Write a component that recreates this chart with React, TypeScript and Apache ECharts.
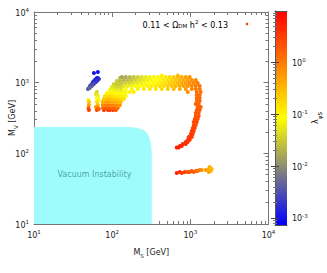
import React, { useEffect, useRef } from 'react';
import * as echarts from 'echarts';

const FONT = 'DejaVu Sans';

const X_MAJOR = [10, 100, 1000, 10000];
const X_MINOR = [20, 30, 40, 50, 60, 70, 80, 90, 200, 300, 400, 500, 600, 700, 800, 900, 2000, 3000, 4000, 5000, 6000, 7000, 8000, 9000];
const Y_MAJOR = [10, 100, 1000, 10000];
const Y_MINOR = [20, 30, 40, 50, 60, 70, 80, 90, 200, 300, 400, 500, 600, 700, 800, 900, 2000, 3000, 4000, 5000, 6000, 7000, 8000, 9000];
const CB_MAJOR = [0.001, 0.01, 0.1, 1];
const CB_MINOR = [0.0008, 0.0009, 0.002, 0.003, 0.004, 0.005, 0.006, 0.007, 0.008, 0.009, 0.02, 0.03, 0.04, 0.05, 0.06, 0.07, 0.08, 0.09, 0.2, 0.3, 0.4, 0.5, 0.6, 0.7, 0.8, 0.9, 2, 3, 4, 5, 6, 7, 8, 9];
const LOG_LAMBDA_MIN = -3.135;
const LOG_LAMBDA_MAX = 0.99;
const PALETTE = ['#0000ff', '#808080', '#ffff00', '#ff8000', '#ff0000'];

// [M_S, M_V, lambda_phiS]
const blueBranch = [
  [58.4, 1371, 0.001], [65.6, 1416, 0.0011],
  [49.0, 812, 0.004], [50.4, 840, 0.004], [51.9, 897, 0.003], [53.5, 927, 0.003], [55.0, 957, 0.0025],
  [56.7, 1022, 0.002], [58.4, 1056, 0.0018], [60.1, 1091, 0.0016], [61.9, 1127, 0.0015], [63.7, 1165, 0.0013],
  [65.6, 1165, 0.0012], [67.6, 1127, 0.0015], [65.6, 1091, 0.0018], [61.9, 1022, 0.002], [58.4, 957, 0.003],
  [55.0, 897, 0.0035], [51.9, 840, 0.005], [63.7, 1056, 0.002],
];
const smallColumns = [
  [49.7, 569, 0.1], [50.4, 533, 0.25], [50.4, 483, 0.5], [49.7, 438, 1.5], [50.4, 410, 3],
  [63.7, 738, 0.04], [61.9, 692, 0.05], [65.6, 648, 0.06], [63.7, 607, 0.08], [67.6, 569, 0.1],
  [63.7, 533, 0.15], [65.6, 483, 0.3], [61.9, 453, 0.6], [65.6, 438, 1], [63.7, 410, 2.5], [67.6, 424, 1.5],
];
const mainCloud = [
  [78.3, 410, 4], [88.1, 410, 3], [93.5, 410, 3.5], [102.1, 410, 3], [111.4, 410, 2.5],
  [76, 438, 1.5], [83.1, 438, 2], [90.8, 438, 2], [99.1, 438, 1.5], [108.2, 438, 1.5], [118.2, 438, 1.2],
  [76, 483, 0.8], [83.1, 483, 1], [90.8, 483, 1], [99.1, 483, 0.9], [108.2, 483, 0.8], [118.2, 483, 0.7], [125.4, 483, 0.6],
  [76, 533, 0.4], [83.1, 533, 0.5], [90.8, 533, 0.5], [99.1, 533, 0.45], [108.2, 533, 0.4], [118.2, 533, 0.35], [129.1, 533, 0.3],
  [78.3, 588, 0.25], [85.5, 588, 0.3], [93.5, 588, 0.3], [102.1, 588, 0.25], [111.4, 588, 0.22], [121.8, 588, 0.2], [133, 588, 0.18], [141, 588, 0.15],
  [80.7, 648, 0.15], [88.1, 648, 0.18], [96.2, 648, 0.18], [105.1, 648, 0.15], [114.8, 648, 0.13], [125.4, 648, 0.12], [137, 648, 0.11], [149.6, 648, 0.1],
  [85.5, 714, 0.1], [93.5, 714, 0.1], [102.1, 714, 0.1], [111.4, 714, 0.09], [121.8, 714, 0.08], [133, 714, 0.08], [145.2, 714, 0.08],
  [93.5, 787, 0.07], [102.1, 787, 0.07], [111.4, 787, 0.06], [121.8, 787, 0.06], [133, 787, 0.06],
  [99.1, 868, 0.05], [108.2, 868, 0.045], [118.2, 868, 0.04], [129.1, 868, 0.04],
  [105.1, 957, 0.035], [114.8, 957, 0.03], [125.4, 957, 0.03],
  [114.8, 1056, 0.03], [125.4, 1056, 0.025],
  [125.4, 1165, 0.025],
];
const upperBand = [
  [431, 1260, 0.1], [691, 1260, 0.28],
  [133, 1203, 0.015], [149.6, 1203, 0.018], [168.3, 1203, 0.022], [189.3, 1203, 0.028], [213, 1203, 0.035], [239.5, 1203, 0.045],
  [269, 1203, 0.055], [303, 1203, 0.065], [341, 1203, 0.075], [384, 1203, 0.09], [431, 1203, 0.11], [485, 1203, 0.13],
  [546, 1203, 0.17], [614, 1203, 0.22], [691, 1203, 0.3], [777, 1203, 0.4], [873, 1203, 0.5], [982, 1203, 0.6],
  [141, 1091, 0.02], [158.7, 1091, 0.024], [178.5, 1091, 0.03], [200.8, 1091, 0.036], [226, 1091, 0.045], [254, 1091, 0.055],
  [286, 1091, 0.065], [321, 1091, 0.075], [361, 1091, 0.085], [407, 1091, 0.1], [457, 1091, 0.12], [514, 1091, 0.15],
  [578, 1091, 0.19], [651, 1091, 0.25], [733, 1091, 0.33], [824, 1091, 0.45], [926, 1091, 0.55], [1042, 1091, 0.7], [1172, 1091, 0.8],
  [133, 989, 0.03], [149.6, 989, 0.035], [168.3, 989, 0.04], [189.3, 989, 0.048], [213, 989, 0.056], [239.5, 989, 0.065],
  [269, 989, 0.075], [303, 989, 0.085], [341, 989, 0.095], [384, 989, 0.11], [431, 989, 0.13], [485, 989, 0.16],
  [546, 989, 0.2], [614, 989, 0.26], [691, 989, 0.33], [777, 989, 0.42], [873, 989, 0.55], [982, 989, 0.7], [1105, 989, 0.85], [1243, 989, 1],
  [141, 897, 0.05], [158.7, 897, 0.06], [178.5, 897, 0.07], [200.8, 897, 0.08], [226, 897, 0.09], [254, 897, 0.1],
  [286, 897, 0.11], [321, 897, 0.12], [361, 897, 0.13], [407, 897, 0.15], [457, 897, 0.17], [514, 897, 0.21],
  [578, 897, 0.26], [651, 897, 0.32], [733, 897, 0.4], [824, 897, 0.5], [926, 897, 0.65], [1042, 897, 0.8], [1172, 897, 0.95], [1318, 897, 1.1],
  [149.6, 813, 0.08], [178.5, 813, 0.1], [213, 813, 0.11], [254, 813, 0.12], [303, 813, 0.13], [361, 813, 0.14],
  [431, 813, 0.16], [514, 813, 0.2], [614, 813, 0.28], [733, 813, 0.38], [873, 813, 0.55], [1042, 813, 0.8], [1172, 813, 0.95], [1318, 813, 1.1],
  [149.6, 738, 0.1], [168.3, 738, 0.11], [189.3, 738, 0.12], [926, 738, 0.65],
  [1207, 738, 1.2], [1357, 738, 1.2], [1207, 669, 1.3], [1318, 669, 1.3], [1207, 607, 1.4], [1318, 607, 1.4],
  [1207, 551, 1.5], [1318, 551, 1.5], [1172, 499, 1.6], [1280, 499, 1.6],
];
const descendingTail = [
  [1243, 453, 1.7], [1357, 453, 1.7], [1207, 410, 1.8], [1318, 410, 1.8], [1172, 372, 2], [1280, 372, 2],
  [1172, 337, 2.1], [1280, 337, 2.1], [1138, 306, 2.3], [1243, 306, 2.3], [1105, 278, 2.5], [1207, 278, 2.5],
  [1105, 252, 2.7], [1172, 252, 2.7], [1073, 228, 2.9], [1138, 228, 2.9], [1042, 207, 3.1], [1105, 207, 3.1],
  [1012, 188, 3.3], [1073, 188, 3.3], [954, 170, 3.5], [1042, 170, 3.5], [926, 155, 3.8], [982, 155, 3.8],
  [873, 145, 4], [926, 145, 4], [800, 136, 4.3], [873, 136, 4.3], [733, 127, 4.6], [777, 127, 4.6],
  [670, 121, 5.5], [711, 121, 5.5],
];
const lowBranch = [
  [670, 52.7, 5], [733, 54.4, 4], [777, 52.7, 3.5], [848, 54.4, 3], [926, 54.4, 2.5], [982, 54.4, 2],
  [1042, 56.2, 2], [1105, 54.4, 1.8], [1172, 56.2, 1.5], [1243, 56.2, 1.2], [1318, 58.1, 1], [1398, 58.1, 0.7],
  [1573, 58.1, 0.5], [1718, 60, 0.4], [1770, 64.1, 0.35], [1822, 56.2, 0.35], [1875, 60, 0.3], [1718, 54.4, 0.4],
];
// boundary of the vacuum-instability region [M_S, M_V]
const vacuumBoundary = [
  [10, 236], [168, 236], [213, 228], [254, 214], [286, 188], [303, 160], [317, 127], [321, 94.8], [321, 10],
];
const vacuumLabelPos = [59.3, 50.1];

const rich = {
  b: { fontSize: 8, fontFamily: FONT, color: '#222', verticalAlign: 'bottom' },
  s: { fontSize: 5.5, fontFamily: FONT, color: '#222', verticalAlign: 'bottom', padding: [0, 0, 4, 0] },
  m: { fontSize: 8, fontFamily: FONT, color: '#222', verticalAlign: 'top' },
  d: { fontSize: 5.5, fontFamily: FONT, color: '#222', verticalAlign: 'top', padding: [5, 0, 0, 0] },
};

const powLabel = (v: number) => `{b|10}{s|${Math.round(Math.log10(v))}}`;
const AXIS_COLOR = '#777';

function majorAxis(extra: any, values: number[], labels: boolean) {
  return {
    type: 'log', logBase: 10,
    axisLine: { show: true, lineStyle: { color: AXIS_COLOR, width: 1 } },
    axisTick: { show: true, inside: true, length: 5, customValues: values, lineStyle: { color: AXIS_COLOR } },
    axisLabel: labels ? { show: true, customValues: values, formatter: powLabel, rich, margin: 5 } : { show: false },
    splitLine: { show: false },
    ...extra,
  };
}
function minorAxis(extra: any, values: number[], len = 3) {
  return {
    type: 'log', logBase: 10,
    axisLine: { show: false },
    axisTick: { show: true, inside: true, length: len, customValues: values, lineStyle: { color: AXIS_COLOR } },
    axisLabel: { show: false },
    splitLine: { show: false },
    ...extra,
  };
}

export default function App() {
  const ref = useRef<HTMLDivElement>(null);
  useEffect(() => {
    const chart = echarts.init(ref.current!, null, { renderer: 'svg' });
    const points = [...blueBranch, ...smallColumns, ...mainCloud, ...upperBand, ...descendingTail, ...lowBranch]
      .map(([ms, mv, lam]) => [ms, mv, Math.log10(lam)]);
    const cbMin = Math.pow(10, LOG_LAMBDA_MIN);
    const cbMax = Math.pow(10, LOG_LAMBDA_MAX);
    const mainX = { gridIndex: 0, min: 10, max: 10000 };
    const mainY = { gridIndex: 0, min: 10, max: 10000 };
    const cbY = { gridIndex: 1, min: cbMin, max: cbMax, z: 10 };
    const nameRich = { b: { ...rich.m, fontSize: 8 }, d: rich.d };
    const option: any = {
      animation: false,
      textStyle: { fontFamily: FONT },
      grid: [
        { left: 34, top: 12, width: 234.5, height: 212, containLabel: false, outerBoundsMode: 'none' },
        { left: 275, top: 11, width: 12, height: 214, containLabel: false, outerBoundsMode: 'none' },
      ],
      xAxis: [
        majorAxis({ ...mainX, position: 'bottom', name: '{b|M}{d|S}{b| [GeV]}', nameLocation: 'middle', nameGap: 24,
          nameMoveOverlap: false, nameTextStyle: { rich: nameRich } }, X_MAJOR, true),
        minorAxis({ ...mainX, position: 'bottom' }, X_MINOR),
        majorAxis({ ...mainX, position: 'top' }, X_MAJOR, false),
        minorAxis({ ...mainX, position: 'top' }, X_MINOR),
        { type: 'value', gridIndex: 1, min: 0, max: 1, position: 'bottom', z: 10, axisLine: { show: true, lineStyle: { color: '#555' } }, axisTick: { show: false }, axisLabel: { show: false }, splitLine: { show: false } },
        { type: 'value', gridIndex: 1, min: 0, max: 1, position: 'top', z: 10, axisLine: { show: true, lineStyle: { color: '#555' } }, axisTick: { show: false }, axisLabel: { show: false }, splitLine: { show: false } },
      ],
      yAxis: [
        majorAxis({ ...mainY, position: 'left', name: '{b|M}{d|V}{b| [GeV]}', nameLocation: 'middle', nameGap: 15, nameRotate: 90,
          nameMoveOverlap: false, nameTextStyle: { rich: nameRich } }, Y_MAJOR, true),
        minorAxis({ ...mainY, position: 'left' }, Y_MINOR),
        majorAxis({ ...mainY, position: 'right' }, Y_MAJOR, false),
        minorAxis({ ...mainY, position: 'right' }, Y_MINOR),
        {
          ...majorAxis({ ...cbY, position: 'right' }, CB_MAJOR, true),
          axisTick: { show: true, inside: true, length: 4, customValues: CB_MAJOR, lineStyle: { color: '#444' } },
          axisLine: { show: true, lineStyle: { color: '#555' } },
        },
        minorAxis({ ...cbY, position: 'right' }, CB_MINOR, 2),
        {
          ...majorAxis({ ...cbY, position: 'left' }, CB_MAJOR, false),
          axisTick: { show: true, inside: true, length: 4, customValues: CB_MAJOR, lineStyle: { color: '#444' } },
          axisLine: { show: true, lineStyle: { color: '#555' } },
        },
        minorAxis({ ...cbY, position: 'left' }, CB_MINOR, 2),
      ],
      visualMap: {
        type: 'continuous', show: false, dimension: 2, seriesIndex: 1,
        min: LOG_LAMBDA_MIN, max: LOG_LAMBDA_MAX,
        inRange: { color: PALETTE },
      },
      graphic: [
        {
          type: 'rect', z: 0,
          shape: { x: 275, y: 11, width: 12, height: 214 },
          style: {
            fill: new echarts.graphic.LinearGradient(0, 1, 0, 0,
              PALETTE.map((c, i) => ({ offset: i / (PALETTE.length - 1), color: c }))),
          },
        },
        {
          type: 'text', x: 228, y: 24,
          style: {
            text: '{b|0.11 < Ω}{d|DM}{b| h}{s|2}{b| < 0.13}',
            rich: { b: { ...rich.b }, d: { ...rich.d, verticalAlign: 'bottom', padding: [0, 0, 0, 0] }, s: rich.s },
            align: 'right', verticalAlign: 'middle',
          },
        },
        { type: 'circle', shape: { cx: 247, cy: 24, r: 1.3 }, style: { fill: '#ff4000' } },
        {
          type: 'text', x: 317, y: 118, rotation: Math.PI / 2,
          style: {
            text: '{m|λ}{d|φS}',
            rich: { m: rich.m, d: rich.d },
            align: 'center', verticalAlign: 'middle',
          },
        },
      ],
      series: [
        {
          type: 'line', xAxisIndex: 0, yAxisIndex: 0, data: vacuumBoundary, symbol: 'none',
          lineStyle: { width: 0 }, areaStyle: { color: '#9ffcfc', opacity: 1, origin: 'start' }, z: 1,
        },
        {
          type: 'scatter', xAxisIndex: 0, yAxisIndex: 0, data: points, symbolSize: 4, z: 3,
          itemStyle: { opacity: 1 },
        },
        {
          type: 'scatter', xAxisIndex: 0, yAxisIndex: 0, data: [vacuumLabelPos], symbolSize: 0, z: 4,
          label: { show: true, position: 'inside', formatter: 'Vacuum Instability', fontSize: 8, fontFamily: FONT, color: '#2f8f8f' },
        },
      ],
    };
    chart.setOption(option);
    return () => chart.dispose();
  }, []);
  return <div ref={ref} style={{ width: 327, height: 273, position: 'absolute', left: 0, top: 0 }} />;
}
